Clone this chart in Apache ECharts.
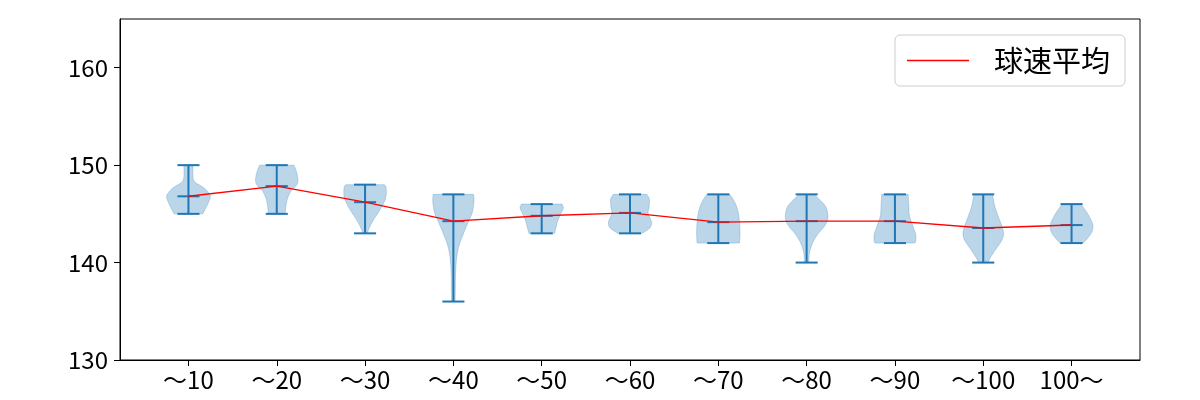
<!DOCTYPE html>
<html>
<head>
<meta charset="utf-8">
<script src="https://cdn.jsdelivr.net/npm/echarts@6/dist/echarts.min.js"></script>
<style>
html,body{margin:0;padding:0;background:#fff;}
#chart{width:1200px;height:400px;}
</style>
</head>
<body>
<div id="chart"></div>
<script>
// ---- data ----
const categories = ['～10','～20','～30','～40','～50','～60','～70','～80','～90','～100','100～'];
const means = [146.8, 147.85, 146.2, 144.25, 144.8, 145.1, 144.15, 144.25, 144.25, 143.55, 143.85];
const maxs  = [150, 150, 148, 147, 146, 147, 147, 147, 147, 147, 146];
const mins  = [145, 145, 143, 136, 143, 143, 142, 140, 142, 140, 142];
// violin density profiles: [speed, relative half-width (0..1)]
const profile10  = [[145,0.65],[145.6,0.79],[146.35,0.94],[146.8,0.99],[147.2,0.9],[147.7,0.68],[148.2,0.33],[148.6,0.22],[149.3,0.2],[150,0.21]];
const profile20  = [[145,0.38],[145.5,0.4],[146,0.43],[146.65,0.5],[147.4,0.66],[147.9,0.88],[148.4,0.96],[149.2,0.91],[150,0.78]];
const profile30  = [[143,0.12],[143.4,0.16],[144.3,0.36],[145.1,0.59],[146,0.82],[146.8,0.95],[147.7,0.95],[148,0.87]];
const profile40  = [[136,0.08],[137.5,0.09],[138.9,0.1],[140.3,0.14],[141.7,0.25],[143.05,0.47],[144.3,0.7],[145.1,0.85],[146.15,0.93],[147,0.92]];
const profile50  = [[143,0.58],[143.6,0.65],[144.3,0.73],[145.1,0.88],[145.6,0.98],[146,0.92]];
const profile60  = [[143,0.55],[143.55,0.9],[144.1,0.98],[144.6,0.9],[145.1,0.82],[145.8,0.87],[146.5,0.88],[147,0.76]];
const profile70  = [[142,0.95],[142.2,0.97],[143.4,0.98],[144.8,0.93],[145.8,0.82],[146.5,0.67],[147,0.52]];
const profile80  = [[140,0.1],[141,0.13],[142,0.27],[142.9,0.5],[143.7,0.8],[144.4,0.95],[145.1,0.95],[145.8,0.85],[146.5,0.57],[147,0.35]];
const profile90  = [[142,0.9],[142.2,0.94],[142.9,0.94],[143.7,0.82],[144.8,0.66],[145.8,0.63],[147,0.6]];
const profile100 = [[140,0.22],[140.5,0.32],[141.3,0.55],[142.2,0.82],[142.9,0.92],[143.7,0.85],[144.8,0.67],[145.8,0.52],[147,0.42]];
const profileOver = [[142,0.52],[142.5,0.73],[143.2,0.93],[143.9,0.96],[144.6,0.83],[145.3,0.65],[146,0.42]];
const profiles = [profile10,profile20,profile30,profile40,profile50,profile60,profile70,profile80,profile90,profile100,profileOver];
const yTicks = [130, 140, 150, 160];
const legendName = '球速平均';

// ---- rendering ----
const FONT = '"Noto Sans CJK JP", "Noto Sans", sans-serif';
const positions = categories.map((c, i) => i + 1);
const HALF = 0.25;   // max half-width of a violin (widths = 0.5)
const CAP = 0.125;   // half-length of the cap lines

function cr(a, b, c, d, t) {
  const t2 = t * t, t3 = t2 * t;
  return 0.5 * ((2 * b) + (-a + c) * t + (2 * a - 5 * b + 4 * c - d) * t2 + (-a + 3 * b - 3 * c + d) * t3);
}
function smoothProfile(p) {
  const out = [];
  const n = p.length;
  for (let i = 0; i < n - 1; i++) {
    const p0 = p[Math.max(i - 1, 0)], p1 = p[i], p2 = p[i + 1], p3 = p[Math.min(i + 2, n - 1)];
    for (let s = 0; s < 10; s++) {
      const t = s / 10;
      out.push([cr(p0[0], p1[0], p2[0], p3[0], t), Math.max(0.02, cr(p0[1], p1[1], p2[1], p3[1], t))]);
    }
  }
  out.push(p[n - 1]);
  return out;
}

const violinSeries = {
  type: 'custom',
  name: 'violin',
  silent: true,
  z: 2,
  data: positions.map((p, i) => [i]),
  renderItem: function (params, api) {
    const i = api.value(0);
    const pos = positions[i];
    const sm = smoothProfile(profiles[i]);
    const right = sm.map(([v, w]) => api.coord([pos + w * HALF, v]));
    const left = sm.slice().reverse().map(([v, w]) => api.coord([pos - w * HALF, v]));
    return {
      type: 'polygon',
      shape: { points: right.concat(left) },
      style: { fill: 'rgba(31,119,180,0.3)', stroke: 'rgba(31,119,180,0.3)', lineWidth: 0.8 }
    };
  }
};

const barsSeries = {
  type: 'custom',
  name: 'bars',
  silent: true,
  z: 3,
  data: positions.map((p, i) => [i]),
  renderItem: function (params, api) {
    const i = api.value(0);
    const pos = positions[i];
    const st = { stroke: '#1f77b4', lineWidth: 2 };
    const top = api.coord([pos, maxs[i]]);
    const bot = api.coord([pos, mins[i]]);
    const seg = (v) => {
      const a = api.coord([pos - CAP, v]), b = api.coord([pos + CAP, v]);
      return { type: 'line', shape: { x1: a[0], y1: a[1], x2: b[0], y2: b[1] }, style: st };
    };
    return {
      type: 'group',
      children: [
        { type: 'line', shape: { x1: top[0], y1: top[1], x2: bot[0], y2: bot[1] }, style: st },
        seg(maxs[i]), seg(mins[i]), seg(means[i])
      ]
    };
  }
};

const meanSeries = {
  type: 'line',
  name: legendName,
  z: 5,
  symbol: 'none',
  showSymbol: false,
  data: positions.map((p, i) => [p, means[i]]),
  lineStyle: { color: '#ff0000', width: 1.4 },
  itemStyle: { color: '#ff0000' }
};

const chart = echarts.init(document.getElementById('chart'), null, { renderer: 'canvas' });
chart.setOption({
  animation: false,
  backgroundColor: '#ffffff',
  textStyle: { fontFamily: FONT },
  grid: { left: 120, right: 60, top: 19, bottom: 40, show: true, borderColor: '#000', borderWidth: 1, backgroundColor: 'transparent' },
  legend: {
    data: [{ name: legendName, icon: 'rect', itemStyle: { color: '#ff0000' } }],
    right: 75,
    top: 35,
    itemWidth: 62,
    itemHeight: 1.5,
    padding: [11, 15, 11, 12],
    backgroundColor: '#ffffff',
    borderColor: '#cccccc',
    borderWidth: 1,
    borderRadius: 5,
    textStyle: { fontFamily: FONT, fontSize: 29, color: '#000', padding: [0, 0, 0, 20] }
  },
  xAxis: {
    type: 'value',
    min: 0.225,
    max: 11.775,
    splitLine: { show: false },
    axisLine: { show: true, onZero: false, lineStyle: { color: '#000', width: 1 } },
    axisTick: { show: true, length: 6, lineStyle: { color: '#000' }, customValues: positions },
    axisLabel: {
      customValues: positions,
      margin: 8,
      fontSize: 24,
      color: '#000',
      fontFamily: FONT,
      formatter: (v) => categories[Math.round(v) - 1]
    }
  },
  yAxis: {
    type: 'value',
    min: 130,
    max: 165,
    splitLine: { show: false },
    axisLine: { show: true, lineStyle: { color: '#000', width: 1 } },
    axisTick: { show: true, length: 6, lineStyle: { color: '#000' }, customValues: yTicks },
    axisLabel: { customValues: yTicks, margin: 12, fontSize: 24, color: '#000', fontFamily: FONT }
  },
  series: [violinSeries, barsSeries, meanSeries]
});
</script>
</body>
</html>
